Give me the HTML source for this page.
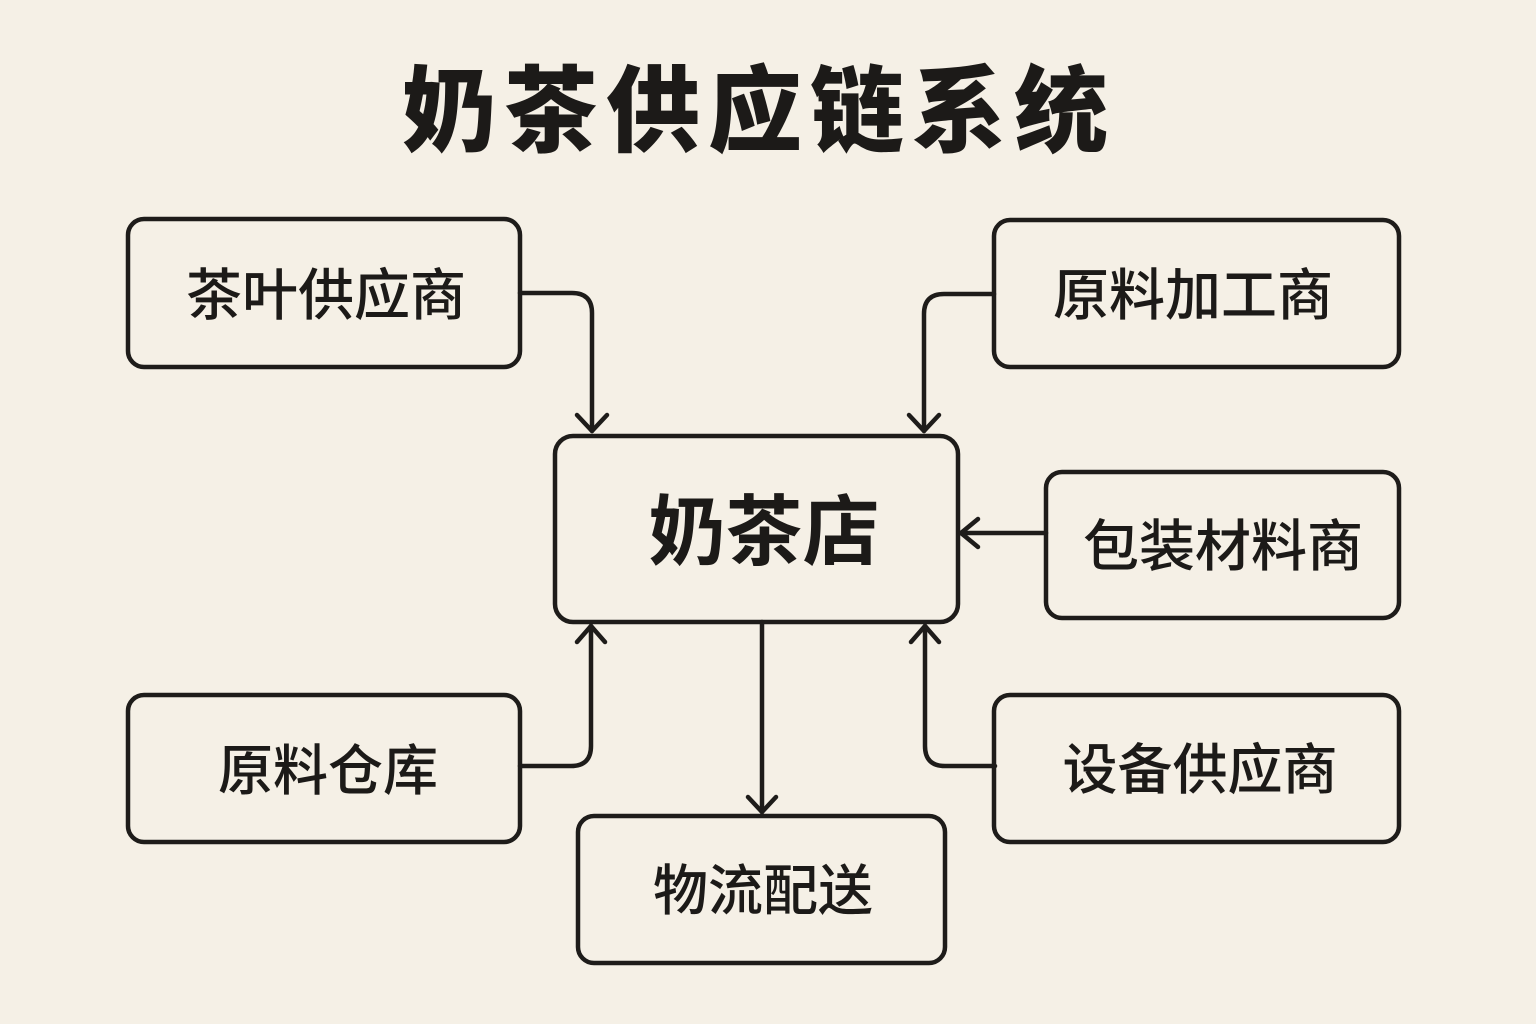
<!DOCTYPE html>
<html>
<head>
<meta charset="utf-8">
<style>
  html, body { margin: 0; padding: 0; }
  body { width: 1536px; height: 1024px; background: #f5f0e6; overflow: hidden; }
  svg { display: block; }
  text { font-family: "Liberation Sans", "Noto Sans CJK SC", "WenQuanYi Zen Hei", sans-serif; fill: #1c1a18; text-anchor: middle; }
</style>
</head>
<body>
<svg width="1536" height="1024" viewBox="0 0 1536 1024" xmlns="http://www.w3.org/2000/svg">
  <rect x="0" y="0" width="1536" height="1024" fill="#f5f0e6"/>

  <!-- Title -->
  <text x="759" y="144" font-size="94" font-weight="900" letter-spacing="8">奶茶供应链系统</text>

  <g fill="none" stroke="#1e1c1a" stroke-width="4.5" stroke-linecap="round" stroke-linejoin="round">
    <!-- Boxes -->
    <rect x="128" y="219" width="392" height="148" rx="16"/>
    <rect x="994" y="220" width="405" height="147" rx="16"/>
    <rect x="1046" y="472" width="353" height="146" rx="16"/>
    <rect x="555" y="436" width="403" height="186" rx="18"/>
    <rect x="128" y="695" width="392" height="147" rx="16"/>
    <rect x="994" y="695" width="405" height="147" rx="16"/>
    <rect x="578" y="816" width="367" height="147" rx="16"/>

    <!-- Connectors -->
    <path d="M520,293 H572 Q592,293 592,313 V431"/>
    <path d="M577,415 L592,431 L607,415"/>

    <path d="M994,294 H944 Q924,294 924,314 V431"/>
    <path d="M909,415 L924,431 L939,415"/>

    <path d="M1046,533 H961"/>
    <path d="M978,519 L961,533 L978,547"/>

    <path d="M520,766 H571 Q591,766 591,746 V626"/>
    <path d="M577,642 L591,626 L605,642"/>

    <path d="M995,766 H945 Q925,766 925,746 V626"/>
    <path d="M911,642 L925,626 L939,642"/>

    <path d="M762,622 V812"/>
    <path d="M748,797 L762,812 L776,797"/>
  </g>

  <!-- Labels -->
  <text x="326" y="315" font-size="56" font-weight="500">茶叶供应商</text>
  <text x="1193" y="315" font-size="56" font-weight="500">原料加工商</text>
  <text x="1223" y="566" font-size="56" font-weight="500">包装材料商</text>
  <text x="764" y="559" font-size="77" font-weight="700">奶茶店</text>
  <text x="328" y="790" font-size="55" font-weight="500">原料仓库</text>
  <text x="1200" y="789" font-size="55" font-weight="500">设备供应商</text>
  <text x="763" y="910" font-size="55" font-weight="500">物流配送</text>
</svg>
</body>
</html>
